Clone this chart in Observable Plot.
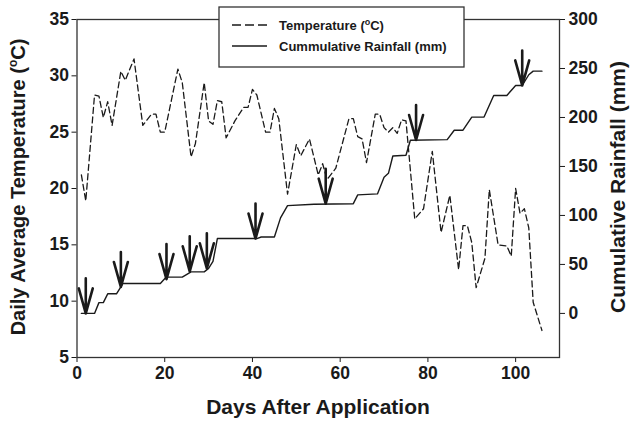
<!DOCTYPE html>
<html><head><meta charset="utf-8">
<script src="https://cdn.jsdelivr.net/npm/d3@7"></script>
<script src="https://cdn.jsdelivr.net/npm/@observablehq/plot@0.6"></script>
<style>body{margin:0;background:#fff} #chart{position:relative;width:634px;height:422px}</style>
</head><body><div id="chart"></div>
<script>
// Temperature (°C), daily readings
const tempDays = [1,2,4,5,6,7,8,10,11,13,15,17,18,19,20,23,24,26,27,29,30,31,32,33,34,36,38,39,40,41,43,44,45,46,48,50,51,53,55,56,57,59,62,63,64,65,66,68,69,70,71,72,73,74,75,77,79,81,83,85,87,88,89,90,91,93,94,96,98,99,100,101,102,103,104,106];
const tempValues = [21.2,18.9,28.3,28.2,26.3,27.7,25.6,30.4,29.6,31.5,25.6,26.6,26.6,25.0,25.0,30.6,29.4,22.8,24.0,29.4,26.0,25.7,27.8,27.7,24.5,26.0,27.2,27.2,28.8,28.3,25.0,25.0,27.1,26.2,19.5,23.9,22.9,24.4,21.2,22.2,20.8,21.8,26.2,26.2,24.6,24.4,22.3,26.6,26.6,25.4,25.0,25.4,24.9,26.1,26.0,17.3,18.2,23.3,16.1,19.4,12.8,16.7,16.7,15.2,11.2,13.8,19.9,15.0,14.9,14.0,20.0,17.8,18.2,16.5,9.9,7.4];
// Cumulative rainfall (mm)
const rainDays = [1,4,5,6,7,9,10.5,19,20.3,24,26,29,30,31,32,41,42,45,46.4,48,54,63,64,68.5,70,71,72,75,76,84.4,86,88,90,92.8,95,98,100,101.5,103,104,106];
const rainValues = [0,0,11,11,20,20,30.6,30.6,37,37,42.4,42.4,46,53,76.4,76.4,78,78,97.5,110,111.4,112,121,122,139,143,160.7,161.4,176.7,177.4,187,187,200.4,200.4,222.5,222.5,232.7,232.7,243.6,247.3,247.3];
// Application arrows
const arrowDays = [2,10,20.4,25.7,29.6,40.7,56.7,77.3,101.5];
const arrowRain = [0,27,35,43,46,76.4,112,177,232.7];

const xTicks = [0,20,40,60,80,100];
const tempTicks = [5,10,15,20,25,30,35];
const rainTicks = [0,50,100,150,200,250,300];
const xTitle = "Days After Application";
const yLeftTitle = "Daily Average Temperature (";
const yRightTitle = "Cumulative Rainfall (mm)";
const legendLabels = ["Temperature (", "Cummulative Rainfall (mm)"];

const tempDomain = [5, 35];
const rainDomain = [-45, 300];
const toT = d3.scaleLinear(rainDomain, tempDomain);

const temp = tempDays.map((d, i) => ({day: d, value: tempValues[i]}));
const rain = rainDays.map((d, i) => ({day: d, value: rainValues[i]}));
const arrows = arrowDays.map((d, i) => ({day: d, value: arrowRain[i]}));

const arrowShape = {
  draw(ctx, l) {
    ctx.moveTo(0, 0); ctx.lineTo(0, -l);
    ctx.moveTo(-7, 25 - l); ctx.lineTo(0, -l); ctx.lineTo(7, 25 - l);
  }
};

const ink = "#1a1a1a";
const plot = Plot.plot({
  width: 634, height: 422,
  marginLeft: 76.5, marginRight: 75, marginTop: 19, marginBottom: 65,
  style: {fontFamily: "'Liberation Sans', Arial, sans-serif", fontSize: "17.5px", fontWeight: "bold", color: ink, background: "white", overflow: "visible"},
  x: {domain: [0, 110]},
  y: {domain: tempDomain},
  marks: [
    Plot.axisX({ticks: xTicks, tickSize: 5, tickPadding: 4, label: null}),
    Plot.axisY({ticks: tempTicks, tickSize: 5, tickPadding: 3, label: null, anchor: "left"}),
    Plot.axisY(rainTicks.map(toT), {anchor: "right", tickFormat: d => Math.round(toT.invert(d)), tickSize: 5, tickPadding: 4, label: null}),
    Plot.line(temp, {x: "day", y: "value", stroke: ink, strokeWidth: 1.3, strokeDasharray: "6,3.5"}),
    Plot.line(rain, {x: "day", y: d => toT(d.value), stroke: ink, strokeWidth: 1.4}),
    Plot.vector(arrows, {x: "day", y: d => toT(d.value), length: 35, rotate: 180, anchor: "end", shape: arrowShape, stroke: ink, strokeWidth: 2.6}),
    Plot.frame({stroke: "#333", strokeWidth: 1.3})
  ]
});
document.getElementById("chart").append(plot);

const svg = d3.select(plot);
const tf = "'Liberation Sans', Arial, sans-serif";
// axis titles
svg.append("text").attr("x", 318).attr("y", 414).attr("text-anchor", "middle")
  .attr("font-family", tf).attr("font-size", 21).attr("font-weight", "bold").attr("fill", ink).text(xTitle);
const lt = svg.append("text").attr("transform", "translate(25,187) rotate(-90)").attr("text-anchor", "middle")
  .attr("font-family", tf).attr("font-size", 20).attr("font-weight", "bold").attr("fill", ink);
lt.append("tspan").text(yLeftTitle);
lt.append("tspan").attr("font-size", 12).attr("dy", -8).text("o");
lt.append("tspan").attr("dy", 8).text("C)");
svg.append("text").attr("transform", "translate(625,187) rotate(-90)").attr("text-anchor", "middle")
  .attr("font-family", tf).attr("font-size", 21).attr("font-weight", "bold").attr("fill", ink).text(yRightTitle);

// legend
const lg = svg.append("g").attr("text-anchor", "start");
lg.append("rect").attr("x", 219).attr("y", 7).attr("width", 245).attr("height", 60)
  .attr("fill", "white").attr("stroke", "#333").attr("stroke-width", 1.3);
lg.append("line").attr("x1", 232).attr("x2", 267).attr("y1", 25).attr("y2", 25)
  .attr("stroke", ink).attr("stroke-width", 1.3).attr("stroke-dasharray", "9,4");
lg.append("line").attr("x1", 232).attr("x2", 267).attr("y1", 46).attr("y2", 46)
  .attr("stroke", ink).attr("stroke-width", 1.3);
const l1 = lg.append("text").attr("x", 279).attr("y", 30).attr("text-anchor", "start")
  .attr("font-family", tf).attr("font-size", 13).attr("font-weight", "bold").attr("fill", ink);
l1.append("tspan").text(legendLabels[0]);
l1.append("tspan").attr("font-size", 9).attr("dy", -5).text("o");
l1.append("tspan").attr("dy", 5).text("C)");
lg.append("text").attr("x", 279).attr("y", 51).attr("text-anchor", "start")
  .attr("font-family", tf).attr("font-size", 13).attr("font-weight", "bold").attr("fill", ink).text(legendLabels[1]);
</script>
</body></html>
